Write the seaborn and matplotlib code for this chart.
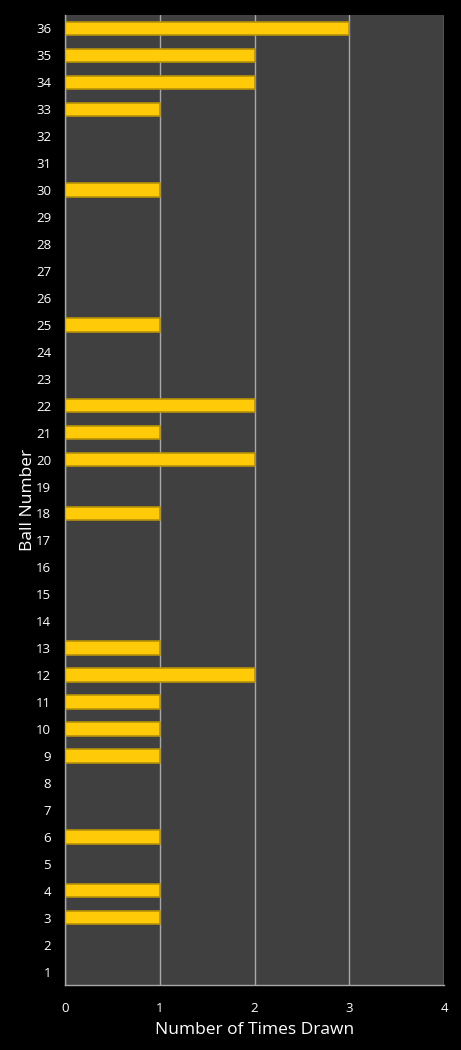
import matplotlib
matplotlib.use("Agg")
import matplotlib.pyplot as plt
import seaborn as sns
import pandas as pd

balls = list(range(1, 37))
times_drawn = [0, 0, 1, 1, 0, 1, 0, 0, 1, 1,
               1, 2, 1, 0, 0, 0, 0, 1, 0, 2,
               1, 2, 0, 0, 1, 0, 0, 0, 0, 1,
               0, 0, 1, 2, 2, 3]
x_ticks = [0, 1, 2, 3, 4]

df = pd.DataFrame({"ball": [str(b) for b in balls], "count": times_drawn})
order = [str(b) for b in reversed(balls)]

sns.set_theme(style="white")
plt.rcParams['font.family'] = ['Open Sans', 'DejaVu Sans']

fig = plt.figure(figsize=(4.61, 10.5), dpi=100, facecolor="black")
ax = fig.add_axes([65/461, 1 - 985/1050, (444-65)/461, (985-15)/1050])
ax.set_facecolor("#404040")

sns.barplot(data=df, x="count", y="ball", order=order, orient="h",
            color="#FFCA08", edgecolor="#B8920A", linewidth=1.2,
            width=0.5, saturation=1, ax=ax)

ax.set_xlim(0, 4)
ax.set_xticks(x_ticks)
ax.set_xticklabels([str(t) for t in x_ticks])
ax.xaxis.grid(True, color="#A8A8A8", linewidth=1)
ax.yaxis.grid(False)
ax.set_axisbelow(True)
for s in ["top", "right"]:
    ax.spines[s].set_visible(False)
for s in ["left", "bottom"]:
    ax.spines[s].set_color("#A8A8A8")
    ax.spines[s].set_linewidth(1)
ax.tick_params(axis="both", colors="white", labelsize=9.5, length=0, pad=10)
ax.tick_params(axis="x", pad=12)
ax.set_xlabel("Number of Times Drawn", color="white", fontsize=12.5, labelpad=5)
ax.set_ylabel("Ball Number", color="white", fontsize=12.5, labelpad=0)

fig.savefig("out.png", dpi=100, facecolor="black")
